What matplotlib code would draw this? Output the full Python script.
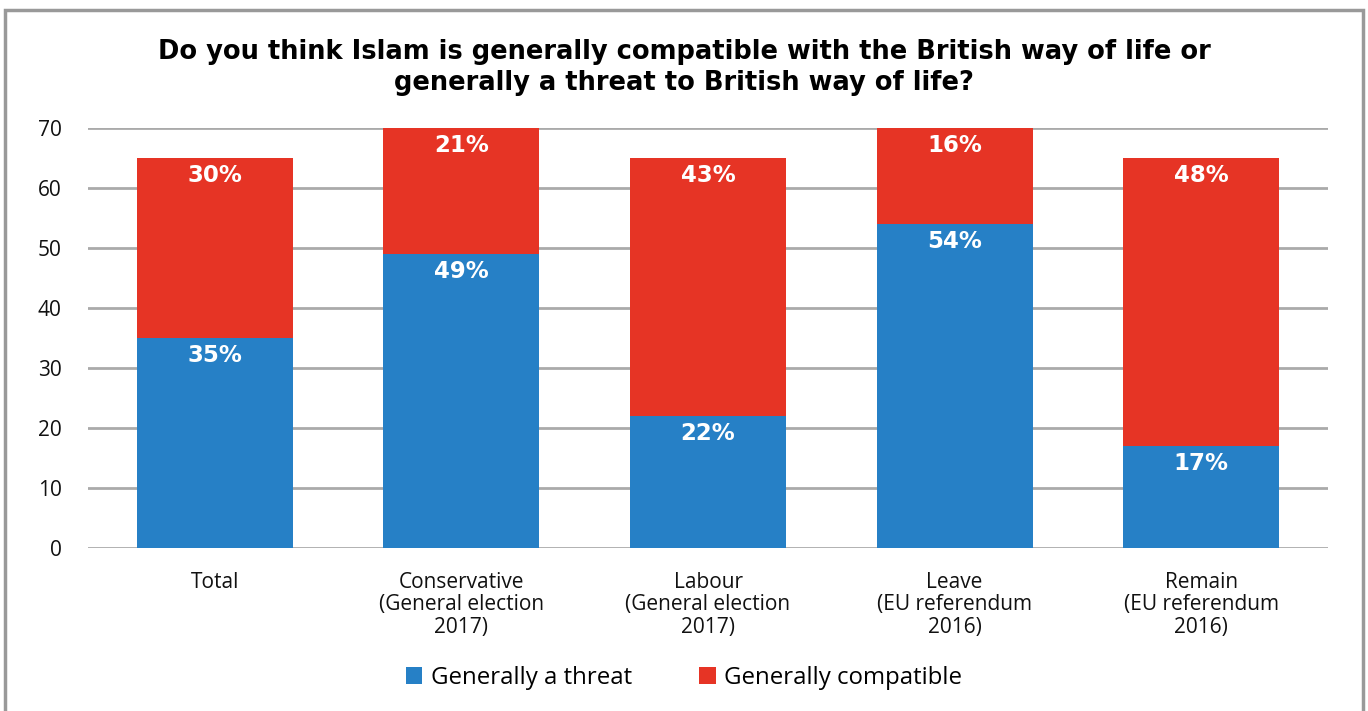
import matplotlib.pyplot as plt
from matplotlib.patches import Rectangle

categories = ['Total', 'Conservative\n(General election\n2017)', 'Labour\n(General election\n2017)',
              'Leave\n(EU referendum\n2016)', 'Remain\n(EU referendum\n2016)']
threat = [35, 49, 22, 54, 17]
compatible = [30, 21, 43, 16, 48]

blue = '#2680c6'
red = '#e63425'

plt.rcParams['font.family'] = ['Open Sans', 'DejaVu Sans']

fig = plt.figure(figsize=(13.68, 7.11), dpi=100)
ax = fig.add_axes([0.0643, 0.2293, 0.9065, 0.5907])

x = range(len(categories))
ax.bar(x, threat, width=0.633, color=blue, label='Generally a threat', zorder=2)
ax.bar(x, compatible, width=0.633, bottom=threat, color=red, label='Generally compatible', zorder=2)

# value labels sit near the top of each segment
for i in x:
    ax.text(i, threat[i] - 1.0, f'{threat[i]}%', ha='center', va='top', color='white',
            fontsize=16.5, fontweight='bold', family='DejaVu Sans', zorder=3)
    top = min(threat[i] + compatible[i], 70)
    ax.text(i, top - 1.0, f'{compatible[i]}%', ha='center', va='top', color='white',
            fontsize=16.5, fontweight='bold', family='DejaVu Sans', zorder=3)

ax.set_ylim(0, 70)
ax.set_xlim(-0.515, len(categories) - 0.485)
ax.set_yticks(range(0, 71, 10))
ax.yaxis.grid(True, color='#aaaaaa', linewidth=2, zorder=0)
ax.set_axisbelow(True)
for s in ax.spines.values():
    s.set_visible(False)
ax.tick_params(axis='both', length=0, labelsize=15, colors='#111111')
ax.tick_params(axis='y', pad=19)
ax.tick_params(axis='x', pad=17)
ax.set_xticks(list(x))
ax.set_xticklabels(categories, linespacing=1.12)

fig.text(0.5, 0.905, 'Do you think Islam is generally compatible with the British way of life or\n'
         'generally a threat to British way of life?', ha='center', va='center',
         fontsize=18.5, fontweight='bold', family='DejaVu Sans', linespacing=1.25)

fig.legend(loc='center', bbox_to_anchor=(0.5, 0.047), ncol=2, frameon=False, fontsize=17.3,
           handlelength=0.7, handleheight=0.7, handletextpad=0.35, columnspacing=2.8)

fig.patches.append(Rectangle((5 / 1368, -0.05), 1358 / 1368, 1 - 10 / 711 + 0.05,
                             transform=fig.transFigure, fill=False, edgecolor='#999999',
                             linewidth=2.5))

fig.savefig('out.png', dpi=100)
